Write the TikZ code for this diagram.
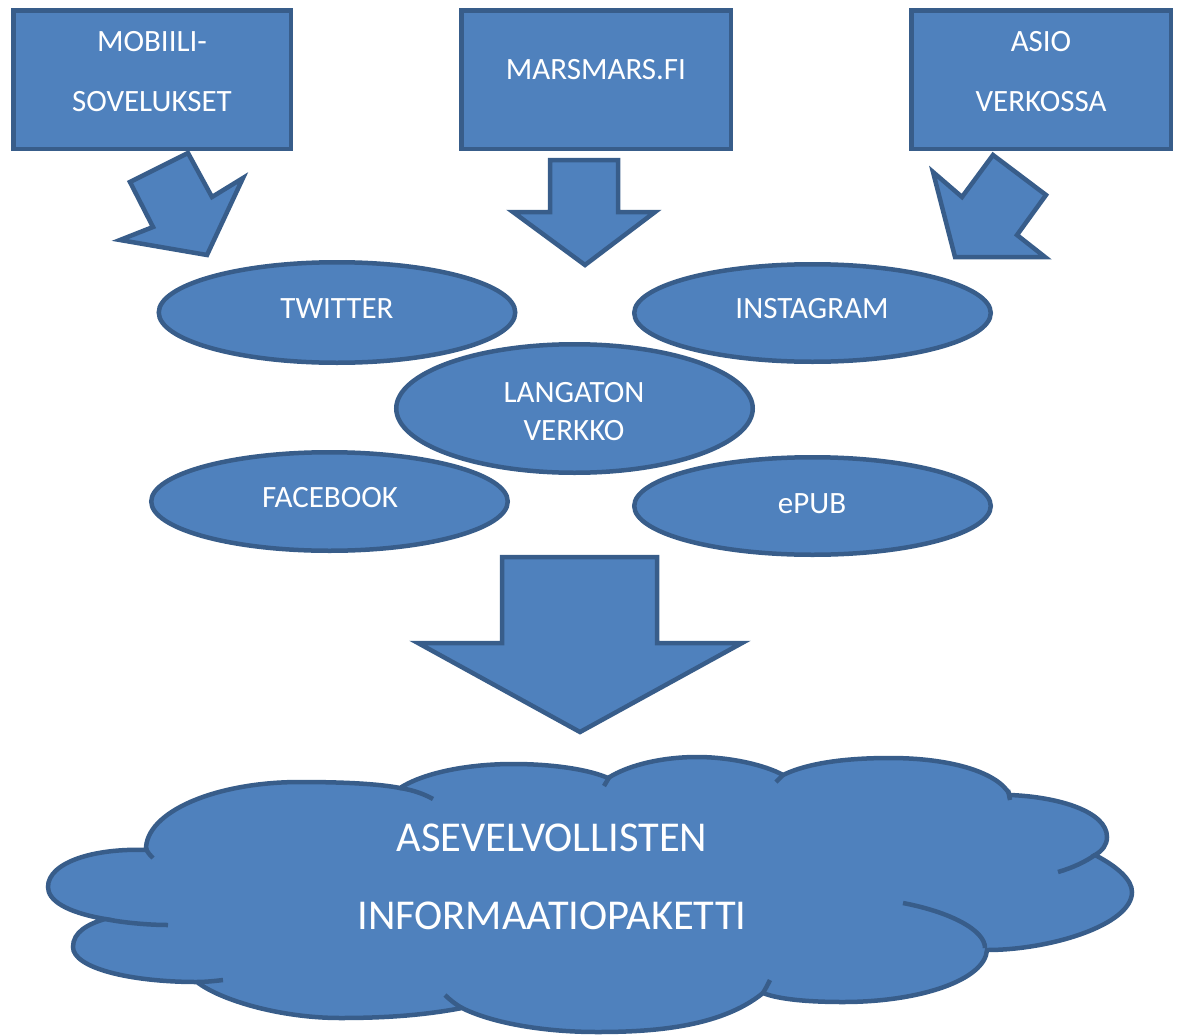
\documentclass[tikz,border=0pt]{standalone}
\usepackage{fontspec}
\setmainfont{Carlito}
\usetikzlibrary{shapes.geometric}
\definecolor{ofill}{RGB}{79,129,189}
\definecolor{oline}{RGB}{56,93,138}
\begin{document}
\begin{tikzpicture}[x=1pt,y=-1pt,
  shapebase/.style={fill=ofill,draw=oline,line width=4.5pt},
  boxshape/.style={shapebase,rectangle,inner sep=0pt,minimum height=138.5pt},
  ellshape/.style={shapebase,ellipse,inner sep=0pt,minimum width=356.5pt},
  lbl/.style={text=white,inner sep=0pt,font=\fontsize{31}{36}\selectfont},
  biglbl/.style={text=white,inner sep=0pt,font=\fontsize{42.5}{50}\selectfont},
  blockarrow/.style={shapebase,line join=miter},
  tailline/.style={draw=oline,line width=4.5pt}
]
\useasboundingbox (0,0) rectangle (1181,1036);

% top boxes
\node[boxshape,minimum width=277.5pt] (b1) at (152,79.5) {};
\node[boxshape,minimum width=269.5pt] (b2) at (596,79.5) {};
\node[boxshape,minimum width=259.5pt] (b3) at (1041,79.5) {};
\node[lbl] (t1a) at (152,42) {MOBIILI-};
\node[lbl] (t1b) at (152,102) {SOVELUKSET};
\node[lbl] (t2) at (596,70) {MARSMARS.FI};
\node[lbl] (t3a) at (1041,42) {ASIO};
\node[lbl] (t3b) at (1041,102) {VERKOSSA};

% block arrows
\draw[blockarrow] (188,153) -- (212,197) -- (243,178) -- (207,255) -- (120,240) -- (153,227) -- (130,182) -- cycle;
\draw[blockarrow] (550,160) -- (618,160) -- (618,212) -- (655,212) -- (585,265) -- (513,212) -- (550,212) -- cycle;
\draw[blockarrow] (993,155) -- (1046,195) -- (1017,235) -- (1045,257) -- (955,257) -- (933,172) -- (962,197) -- cycle;

% ellipses
\node[ellshape,minimum height=100.5pt] (tw) at (337,312.5) {};
\node[ellshape,minimum height=97.5pt] (ig) at (812.5,313) {};
\node[ellshape,minimum height=128.5pt] (lv) at (574.5,408.5) {};
\node[ellshape,minimum height=98.5pt] (fb) at (329.5,501.5) {};
\node[ellshape,minimum height=97.5pt] (ep) at (812.5,506) {};
\node[lbl] (ttw) at (337,309) {TWITTER};
\node[lbl] (tig) at (812,309) {INSTAGRAM};
\node[lbl] (tlv1) at (574,393) {LANGATON};
\node[lbl] (tlv2) at (574,431) {VERKKO};
\node[lbl] (tfb) at (330,498) {FACEBOOK};
\node[lbl] (tep) at (812,504) {ePUB};

% big arrow
\draw[blockarrow] (502,557) -- (657,557) -- (657,643) -- (742,643) -- (580,732) -- (418,643) -- (502,643) -- cycle;

% cloud
\path[shapebase] (146,850)
 .. controls (145,812) and (215,782) .. (300,782)
 .. controls (345,782) and (380,784) .. (400,788)
 .. controls (425,772) and (470,764) .. (513,764)
 .. controls (555,764) and (590,770) .. (608,778)
 .. controls (630,764) and (665,757) .. (697,757)
 .. controls (730,757) and (765,765) .. (783,775)
 .. controls (810,762) and (850,758) .. (890,758)
 .. controls (950,758) and (998,772) .. (1010,795)
 .. controls (1060,797) and (1107,812) .. (1107,837)
 .. controls (1107,845) and (1102,851) .. (1095,855)
 .. controls (1118,867) and (1132,880) .. (1132,892)
 .. controls (1132,925) and (1050,950) .. (987,950)
 .. controls (985,980) and (920,1002) .. (843,1002)
 .. controls (800,1002) and (775,998) .. (763,993)
 .. controls (720,1028) and (650,1032) .. (597,1032)
 .. controls (540,1032) and (490,1022) .. (462,1008)
 .. controls (420,1016) and (380,1018) .. (340,1018)
 .. controls (280,1018) and (220,1000) .. (197,982)
 .. controls (130,982) and (73,968) .. (73,947)
 .. controls (73,932) and (88,924) .. (105,919)
 .. controls (65,912) and (48,900) .. (48,887)
 .. controls (48,862) and (95,848) .. (146,850) -- cycle;
% cloud inner tails
\draw[tailline] (400,788) .. controls (413,790) and (424,794) .. (433,799);
\draw[tailline] (146,848) .. controls (147,852) and (150,855) .. (153,858);
\draw[tailline] (610,776) -- (604,786);
\draw[tailline] (784,774) -- (776,782);
\draw[tailline] (1008,790) -- (1010,800);
\draw[tailline] (1095,855) .. controls (1085,862) and (1072,868) .. (1058,872);
\draw[tailline] (985,948) .. controls (985,930) and (950,912) .. (903,903);
\draw[tailline] (763,993) .. controls (766,988) and (768,984) .. (770,980);
\draw[tailline] (462,1008) .. controls (455,1004) and (449,999) .. (445,995);
\draw[tailline] (197,982) .. controls (205,982) and (215,981) .. (223,980);
\draw[tailline] (105,919) .. controls (125,923) and (150,925) .. (168,925);

\node[biglbl] (c1) at (552,838) {ASEVELVOLLISTEN};
\node[biglbl] (c2) at (552,916) {INFORMAATIOPAKETTI};
\end{tikzpicture}
\end{document}
